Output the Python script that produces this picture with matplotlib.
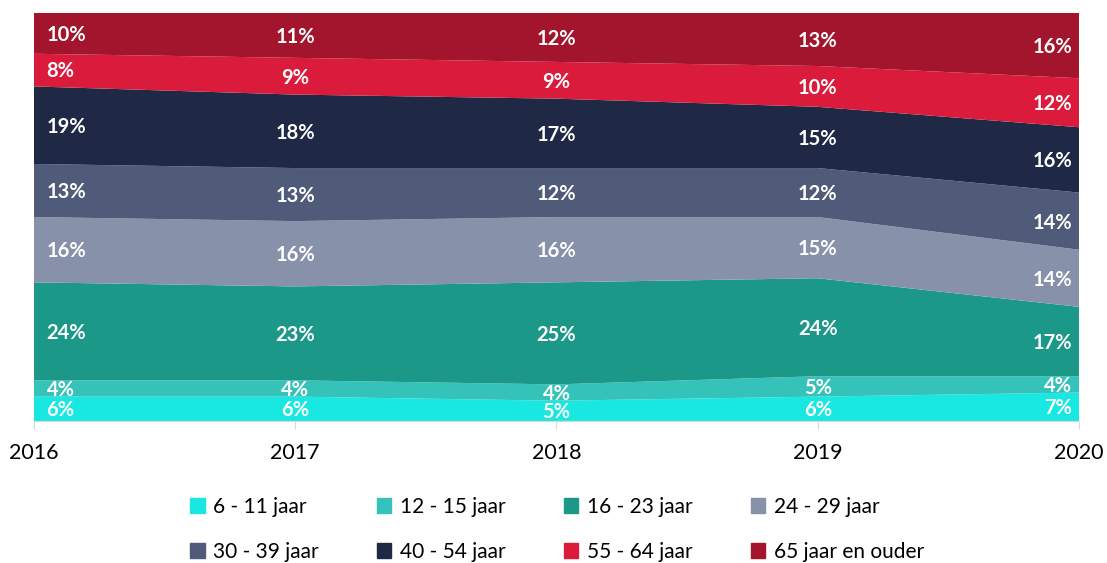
import matplotlib
matplotlib.use("Agg")
import matplotlib.pyplot as plt
import matplotlib.patches as mpatches
import numpy as np

plt.rcParams.update({
    "font.family": ["Lato", "DejaVu Sans"],
    "figure.facecolor": "white",
})

# ── data ────────────────────────────────────────────
years = [2016, 2017, 2018, 2019, 2020]
groups = ["6 - 11 jaar", "12 - 15 jaar", "16 - 23 jaar", "24 - 29 jaar",
          "30 - 39 jaar", "40 - 54 jaar", "55 - 64 jaar", "65 jaar en ouder"]
age_6_11 = [6, 6, 5, 6, 7]
age_12_15 = [4, 4, 4, 5, 4]
age_16_23 = [24, 23, 25, 24, 17]
age_24_29 = [16, 16, 16, 15, 14]
age_30_39 = [13, 13, 12, 12, 14]
age_40_54 = [19, 18, 17, 15, 16]
age_55_64 = [8, 9, 9, 10, 12]
age_65_up = [10, 11, 12, 13, 16]

series = [age_6_11, age_12_15, age_16_23, age_24_29,
          age_30_39, age_40_54, age_55_64, age_65_up]
colors = ["#19E8E2", "#35C3B9", "#1C9889", "#8792AA",
          "#4F5B78", "#1F2946", "#DA1B3C", "#A3152D"]

# ── canvas ──────────────────────────────────────────
fig = plt.figure(figsize=(11.07, 5.63), dpi=100)
ax = fig.add_axes([0.0307, 0.252, 0.944, 0.725])

vals = np.array(series, dtype=float)
ax.stackplot(years, vals, colors=colors, linewidth=0)

# value labels
bottoms = np.vstack([np.zeros(len(years)), np.cumsum(vals, axis=0)[:-1]])
for i in range(len(series)):
    for j, yr in enumerate(years):
        mid = bottoms[i, j] + vals[i, j] / 2
        if j == 0:
            ha, dx = "left", 9
        elif j == len(years) - 1:
            ha, dx = "right", -5
        else:
            ha, dx = "center", 0
        ax.annotate(f"{int(vals[i, j])}%", xy=(yr, mid),
                    xytext=(dx, -1), textcoords="offset points",
                    ha=ha, va="center", fontsize=14.5, fontweight="bold",
                    color="white")

ax.set_xlim(years[0], years[-1])
ax.set_ylim(0, vals.sum(axis=0).max())
ax.set_xticks(years)
ax.set_xticklabels([str(y) for y in years], fontsize=15.5)
ax.set_yticks([])
for s in ["top", "right", "left"]:
    ax.spines[s].set_visible(False)
ax.spines["bottom"].set_color("#D9D9D9")
ax.tick_params(axis="x", length=6, color="#D9D9D9", pad=10)

# legend, row-wise order
handles = [mpatches.Patch(color=c, label=g) for g, c in zip(groups, colors)]
order = [0, 4, 1, 5, 2, 6, 3, 7]
fig.legend([handles[k] for k in order], [groups[k] for k in order],
           loc="upper left", bbox_to_anchor=(0.1716, 0.118), ncol=4,
           frameon=False, fontsize=15, handlelength=0.7, handleheight=0.7,
           handletextpad=0.4, columnspacing=2.8, labelspacing=1.2,
           borderaxespad=0, borderpad=0)

fig.savefig("out.png", dpi=100, facecolor="white")
